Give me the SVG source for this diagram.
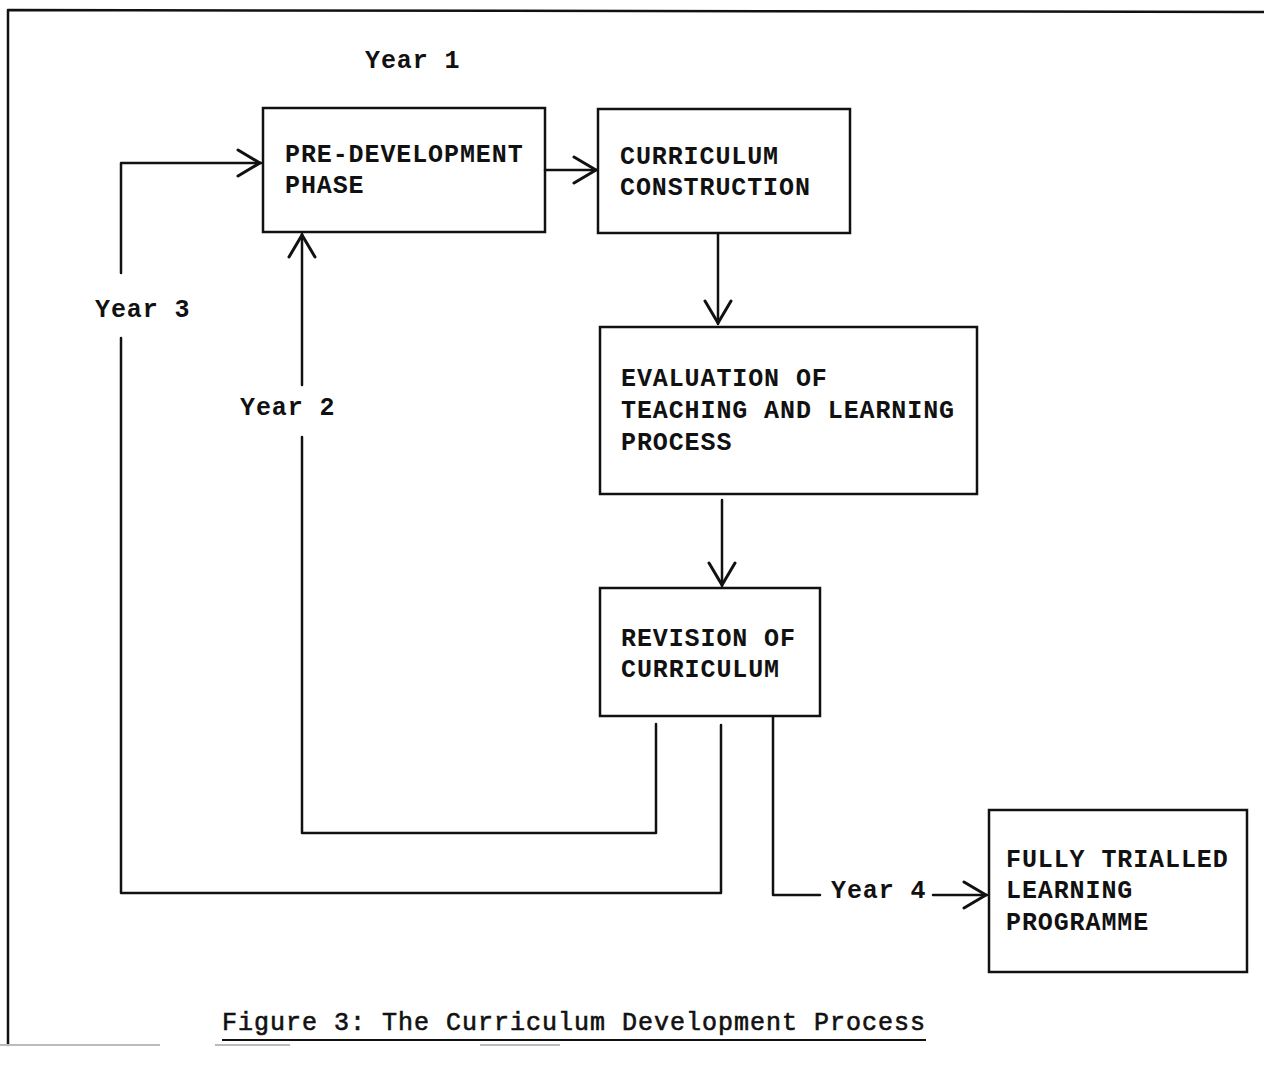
<svg xmlns="http://www.w3.org/2000/svg" width="1264" height="1066" viewBox="0 0 1264 1066">
<style>
.box{fill:none;stroke:#111;stroke-width:2.5}
.ln{fill:none;stroke:#111;stroke-width:2.5;stroke-linecap:round;stroke-linejoin:round}
.t{font-family:"Liberation Mono","DejaVu Sans Mono",monospace;font-weight:bold;font-size:25px;letter-spacing:0.9px;fill:#111}
.cap{font-family:"Liberation Mono","DejaVu Sans Mono",monospace;font-size:25px;letter-spacing:1px;fill:#111;stroke:#111;stroke-width:0.6}
</style>
<defs>
<marker id="ah" viewBox="0 0 26 30" refX="25" refY="15" markerWidth="26" markerHeight="30" markerUnits="userSpaceOnUse" orient="auto">
<path d="M2,2 L24,15 L2,28" fill="none" stroke="#111" stroke-width="3" stroke-linecap="round" stroke-linejoin="round"/>
</marker>
</defs>
<rect width="1264" height="1066" fill="#fff"/>
<g id="frame">
<path class="ln" d="M8,1045 L8,10 L1264,12"/>
<path d="M0,1045 H160 M215,1045 H290 M480,1045 H560" stroke="#bbb" stroke-width="2"/>
</g>
<g id="connectors">
<path class="ln" d="M545,170 L597,170" marker-end="url(#ah)"/>
<path class="ln" d="M121,273 L121,163 L261,163" marker-end="url(#ah)"/>
<path class="ln" d="M721,725 L721,893 L121,893 L121,338"/>
<path class="ln" d="M302,385 L302,234" marker-end="url(#ah)"/>
<path class="ln" d="M656,724 L656,833 L302,833 L302,437"/>
<path class="ln" d="M718,234 L718,324" marker-end="url(#ah)"/>
<path class="ln" d="M722,500 L722,586" marker-end="url(#ah)"/>
<path class="ln" d="M773,717 L773,895 L820,895"/>
<path class="ln" d="M933,895 L987,895" marker-end="url(#ah)"/>
</g>
<g id="labels">
<text class="t" x="365" y="68">Year 1</text>
<text class="t" x="95" y="317">Year 3</text>
<text class="t" x="240" y="415">Year 2</text>
<text class="t" x="831" y="898">Year 4</text>
</g>
<g id="n1">
<rect class="box" x="263" y="108" width="282" height="124"/>
<text class="t" x="285" y="162">PRE-DEVELOPMENT</text>
<text class="t" x="285" y="193">PHASE</text>
</g>
<g id="n2">
<rect class="box" x="598" y="109" width="252" height="124"/>
<text class="t" x="620" y="164">CURRICULUM</text>
<text class="t" x="620" y="195">CONSTRUCTION</text>
</g>
<g id="n3">
<rect class="box" x="600" y="327" width="377" height="167"/>
<text class="t" x="621" y="386">EVALUATION OF</text>
<text class="t" x="621" y="418">TEACHING AND LEARNING</text>
<text class="t" x="621" y="450">PROCESS</text>
</g>
<g id="n4">
<rect class="box" x="600" y="588" width="220" height="128"/>
<text class="t" x="621" y="646">REVISION OF</text>
<text class="t" x="621" y="677">CURRICULUM</text>
</g>
<g id="n5">
<rect class="box" x="989" y="810" width="258" height="162"/>
<text class="t" x="1006" y="867">FULLY TRIALLED</text>
<text class="t" x="1006" y="898">LEARNING</text>
<text class="t" x="1006" y="930">PROGRAMME</text>
</g>
<g id="caption">
<text class="cap" x="222" y="1030">Figure 3: The Curriculum Development Process</text>
<path d="M222,1040 H926" stroke="#111" stroke-width="2"/>
</g>
</svg>
